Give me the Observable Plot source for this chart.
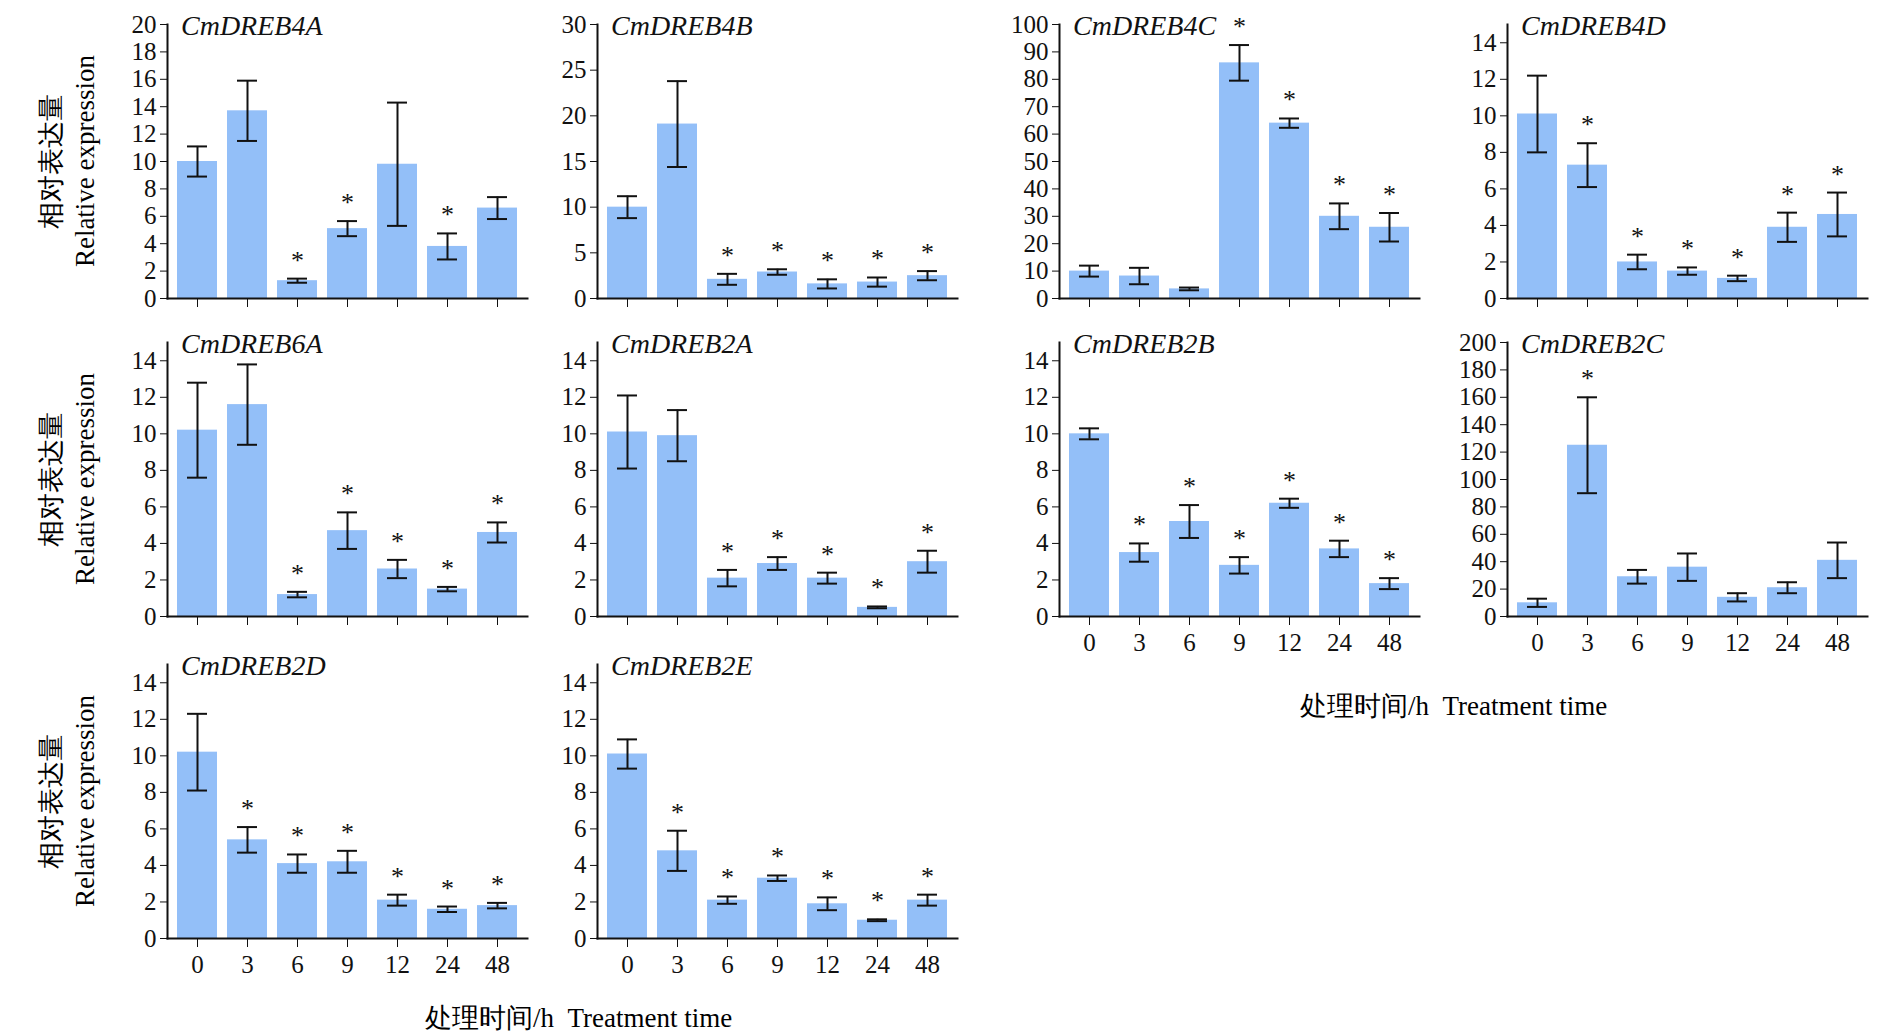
<!DOCTYPE html>
<html><head><meta charset="utf-8">
<script src="https://cdn.jsdelivr.net/npm/d3@7"></script>
<script src="https://cdn.jsdelivr.net/npm/@observablehq/plot@0.6"></script>
<style>
body{margin:0;background:#fff;width:1890px;height:1035px;position:relative;overflow:hidden;font-family:"Liberation Serif","DejaVu Serif",serif}
.p{position:absolute}
.t{position:absolute;font-style:italic;font-size:28px;color:#111;white-space:nowrap}
.yl{position:absolute;transform:rotate(-90deg);transform-origin:center;white-space:nowrap;text-align:center;font-size:27px;line-height:34px;width:300px}
.xl{position:absolute;font-size:27px;white-space:nowrap}
</style></head><body>
<script>
const times = ["0","3","6","9","12","24","48"];
const genes = ["CmDREB4A","CmDREB4B","CmDREB4C","CmDREB4D","CmDREB6A","CmDREB2A","CmDREB2B","CmDREB2C","CmDREB2D","CmDREB2E"];
const yMax = [20,30,100,15,15,15,15,200,15,15];
const yStep = [5,10,20,5,5,5,5,50,5,5];
const values = [
 [10,13.7,1.3,5.1,9.8,3.8,6.6],
 [10,19.1,2.1,2.9,1.6,1.8,2.5],
 [10,8.2,3.5,86,64,30,26],
 [10.1,7.3,2,1.5,1.1,3.9,4.6],
 [10.2,11.6,1.2,4.7,2.6,1.5,4.6],
 [10.1,9.9,2.1,2.9,2.1,0.5,3],
 [10,3.5,5.2,2.8,6.2,3.7,1.8],
 [10,125,29,36,14,21,41],
 [10.2,5.4,4.1,4.2,2.1,1.6,1.8],
 [10.1,4.8,2.1,3.3,1.9,1,2.1]];
const errors = [
 [1.1,2.2,0.15,0.55,4.5,0.95,0.8],
 [1.2,4.7,0.6,0.3,0.5,0.5,0.5],
 [2,3,0.5,6.5,1.7,4.7,5.2],
 [2.1,1.2,0.4,0.2,0.15,0.8,1.2],
 [2.6,2.2,0.15,1,0.5,0.12,0.55],
 [2,1.4,0.45,0.35,0.3,0.05,0.6],
 [0.3,0.5,0.9,0.45,0.25,0.45,0.3],
 [3,35,5,10,3,4,13],
 [2.1,0.7,0.5,0.6,0.3,0.15,0.15],
 [0.8,1.1,0.2,0.15,0.35,0.05,0.3]];
const stars = [
 [0,0,1,1,0,1,0],[0,0,1,1,1,1,1],[0,0,0,1,1,1,1],[0,1,1,1,1,1,1],[0,0,1,1,1,1,1],
 [0,0,1,1,1,1,1],[0,1,1,1,1,1,1],[0,1,0,0,0,0,0],[0,1,1,1,1,1,1],[0,1,1,1,1,1,1]];
const xLabelsShown = [0,0,0,0,0,0,1,1,1,1];

const colX = [167,597,1059,1507];
const rowTop = [24,342,664];
const PW = 360, PH = 274, ML = 80, MT = 20, MB = 60;

genes.forEach((g,i)=>{
  const r = Math.floor(i/4), c = i%4;
  const data = times.map((t,k)=>({t, v:values[i][k], e:errors[i][k], s:stars[i][k]}));
  const plot = Plot.plot({
    width: ML+PW+10, height: MT+PH+MB,
    marginLeft: ML, marginRight: 10, marginTop: MT, marginBottom: MB,
    style:{fontFamily:"Liberation Serif, serif", fontSize:"25px", color:"#111", background:"transparent"},
    x:{domain:times, padding:0.2, label:null},
    y:{domain:[0,yMax[i]], ticks:d3.range(0,yMax[i]+0.01,yStep[i]), label:null},
    marks:[
      Plot.barY(data,{x:"t", y:"v", fill:"#93bff8"}),
      Plot.ruleX(data,{x:"t", y1:d=>d.v-d.e, y2:d=>d.v+d.e, stroke:"#111", strokeWidth:2}),
      Plot.tickY(data,{x:"t", y:d=>d.v+d.e, stroke:"#111", strokeWidth:2, insetLeft:10, insetRight:10}),
      Plot.tickY(data,{x:"t", y:d=>d.v-d.e, stroke:"#111", strokeWidth:2, insetLeft:10, insetRight:10}),
      Plot.text(data.filter(d=>d.s),{x:"t", y:d=>d.v+d.e, text:()=>"*", dy:-10, lineAnchor:"bottom", fontSize:26, fill:"#111"}),
      Plot.axisY({tickSize:7, tickPadding:4, fontSize:25}),
      Plot.axisX({tickSize:9, tickPadding:8, fontSize:25, tickFormat: xLabelsShown[i] ? d=>d : ()=>""}),
      Plot.frame({anchor:"left", stroke:"#111", strokeWidth:2}),
      Plot.frame({anchor:"bottom", stroke:"#111", strokeWidth:2})
    ]
  });
  plot.classList.add("p");
  plot.style.left = (colX[c]-ML)+"px";
  plot.style.top = (rowTop[r]-MT)+"px";
  document.body.appendChild(plot);
  const t = document.createElement("div");
  t.className="t"; t.textContent=g;
  t.style.left=(colX[c]+14)+"px"; t.style.top=(rowTop[r]-14)+"px";
  document.body.appendChild(t);
});

rowTop.forEach(top=>{
  const d=document.createElement("div");
  d.className="yl";
  d.innerHTML="相对表达量<br>Relative expression";
  d.style.left=(68-150)+"px"; d.style.top=(top+PH/2-34)+"px";
  document.body.appendChild(d);
});
[[425,1000],[1300,688]].forEach(([x,y])=>{
  const d=document.createElement("div");
  d.className="xl"; d.innerHTML="处理时间/h&nbsp;&nbsp;Treatment time";
  d.style.left=x+"px"; d.style.top=y+"px";
  document.body.appendChild(d);
});
</script>
</body></html>
